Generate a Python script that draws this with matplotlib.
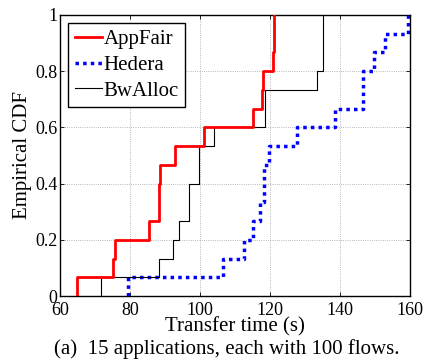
import numpy as np
import matplotlib
matplotlib.use('Agg')
import matplotlib.pyplot as plt

plt.rcParams['font.family'] = ['Liberation Serif', 'DejaVu Serif']

# transfer times (s) of the 15 applications
appfair = [65.0, 75.2, 75.7, 85.5, 88.2, 88.4, 88.5, 92.9, 101.0,
           115.0, 117.8, 117.9, 120.9, 121.0, 121.0]
hedera = [79.3, 106.5, 112.7, 115.0, 117.1, 118.4, 118.4, 119.8, 127.6,
          138.6, 146.5, 146.5, 149.8, 152.9, 159.3]
bwalloc = [71.6, 88.4, 92.4, 94.1, 97.0, 97.0, 99.8, 99.8, 104.0,
           118.6, 118.6, 133.3, 135.2, 135.2, 135.2]

x_ticks = [60, 80, 100, 120, 140, 160]
y_ticks = [0, 0.2, 0.4, 0.6, 0.8, 1]
y_ticklabels = ['0', '0.2', '0.4', '0.6', '0.8', '1']


def ecdf(samples):
    s = np.sort(samples)
    n = len(s)
    x = np.r_[s[0], s]
    y = np.r_[0, np.arange(1, n + 1) / n]
    return x, y


fig = plt.figure(figsize=(4.25, 3.62), dpi=100)
ax = fig.add_axes([0.141, 0.182, 0.824, 0.777])

x, y = ecdf(appfair)
ax.step(x, y, where='post', color='#ff0000', lw=2.0, label='AppFair', zorder=4)
x, y = ecdf(hedera)
ax.step(x, y, where='post', color='#0000ff', lw=2.5, ls=(0, (1, 1.2)),
        label='Hedera', zorder=3)
x, y = ecdf(bwalloc)
ax.step(x, y, where='post', color='black', lw=0.8, label='BwAlloc', zorder=3)

ax.set_xlim(60, 160)
ax.set_ylim(0, 1)
ax.set_xticks(x_ticks)
ax.set_yticks(y_ticks)
ax.set_yticklabels(y_ticklabels)
ax.grid(True, ls=':', lw=0.6, color='#a0a0a0')
ax.set_axisbelow(True)
ax.tick_params(direction='in', length=3, width=0.6, top=True, right=True,
               labelsize=13)
ax.tick_params(axis='x', pad=4)
ax.tick_params(axis='y', pad=2)
for sp in ax.spines.values():
    sp.set_linewidth(1.0)

ax.set_xlabel('Transfer time (s)', fontsize=15, labelpad=-1)
ax.set_ylabel('Empirical CDF', fontsize=15, labelpad=2)

leg = ax.legend(loc='upper left', fontsize=15, handlelength=1.3,
                handletextpad=0.1, labelspacing=0.3, borderpad=0.3,
                borderaxespad=0.4, fancybox=False, framealpha=1)
leg.get_frame().set_edgecolor('black')
leg.get_frame().set_linewidth(1.0)

fig.text(0.534, 1 - 349 / 362, '(a)  15 applications, each with 100 flows.',
         ha='center', va='center', fontsize=15)

fig.savefig('out.png', dpi=100)
